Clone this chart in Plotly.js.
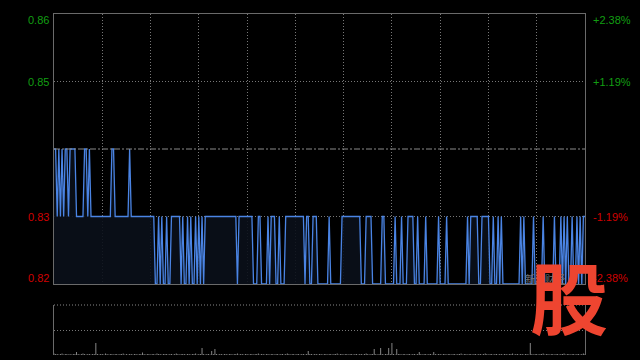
<!DOCTYPE html>
<html>
<head>
<meta charset="utf-8">
<script src="https://cdn.plot.ly/plotly-3.0.1.min.js"></script>
<style>
html,body{margin:0;padding:0;background:#000;}
#chart{width:640px;height:360px;}
</style>
</head>
<body>
<div id="chart"></div>
<script>
// Price per minute (HK session, 330 minutes)
const prices = [
0.84,0.84,0.83,0.84,0.83,0.84,0.83,0.84,0.84,0.83,
0.84,0.84,0.84,0.84,0.83,0.83,0.83,0.83,0.83,0.84,
0.84,0.83,0.84,0.83,0.83,0.83,0.83,0.83,0.83,0.83,
0.83,0.83,0.83,0.83,0.83,0.83,0.84,0.84,0.83,0.83,
0.83,0.83,0.83,0.83,0.83,0.83,0.83,0.84,0.83,0.83,
0.83,0.83,0.83,0.83,0.83,0.83,0.83,0.83,0.83,0.83,
0.83,0.83,0.83,0.82,0.82,0.83,0.82,0.83,0.82,0.82,
0.83,0.82,0.82,0.83,0.83,0.83,0.83,0.83,0.83,0.82,
0.83,0.82,0.82,0.83,0.82,0.83,0.82,0.82,0.83,0.82,
0.83,0.82,0.83,0.82,0.83,0.83,0.83,0.83,0.83,0.83,
0.83,0.83,0.83,0.83,0.83,0.83,0.83,0.83,0.83,0.83,
0.83,0.83,0.83,0.83,0.82,0.83,0.83,0.83,0.83,0.83,
0.83,0.83,0.83,0.83,0.82,0.82,0.82,0.83,0.83,0.82,
0.82,0.82,0.82,0.83,0.82,0.83,0.83,0.83,0.82,0.82,
0.83,0.82,0.82,0.82,0.83,0.83,0.83,0.83,0.83,0.83,
0.83,0.83,0.83,0.83,0.83,0.83,0.82,0.83,0.83,0.82,
0.82,0.83,0.83,0.83,0.82,0.82,0.82,0.82,0.82,0.82,
0.82,0.83,0.82,0.82,0.82,0.82,0.82,0.82,0.82,0.83,
0.83,0.83,0.83,0.83,0.83,0.83,0.83,0.83,0.83,0.83,
0.83,0.82,0.82,0.82,0.83,0.83,0.83,0.83,0.82,0.82,
0.82,0.82,0.82,0.82,0.83,0.83,0.82,0.82,0.82,0.82,
0.82,0.82,0.83,0.82,0.82,0.82,0.83,0.82,0.82,0.82,
0.83,0.83,0.83,0.83,0.82,0.82,0.83,0.82,0.82,0.82,
0.82,0.83,0.82,0.82,0.82,0.82,0.82,0.82,0.82,0.83,
0.82,0.82,0.82,0.82,0.83,0.82,0.82,0.82,0.82,0.82,
0.82,0.82,0.82,0.82,0.82,0.82,0.82,0.83,0.82,0.83,
0.83,0.83,0.83,0.83,0.82,0.82,0.83,0.83,0.83,0.83,
0.83,0.82,0.82,0.83,0.82,0.82,0.83,0.82,0.83,0.82,
0.82,0.82,0.82,0.82,0.82,0.82,0.82,0.82,0.82,0.82,
0.83,0.82,0.83,0.82,0.82,0.82,0.82,0.82,0.83,0.82,
0.82,0.82,0.82,0.82,0.83,0.82,0.82,0.82,0.82,0.82,
0.82,0.83,0.82,0.82,0.82,0.83,0.82,0.83,0.82,0.83,
0.82,0.82,0.83,0.82,0.82,0.83,0.82,0.83,0.82,0.83,0.83
];

// Volume per minute
const volumes = [
3,2,2,1,2,3,1,2,2,1,
2,1,2,2,6,2,1,2,3,2,
1,2,2,1,2,2,24,2,1,2,
2,1,3,2,1,2,2,1,2,2,
1,2,2,3,1,2,1,2,2,1,
2,2,1,2,2,5,2,1,2,2,
1,2,2,1,3,2,2,1,2,2,
2,1,2,2,1,2,3,2,1,2,
2,2,1,2,2,1,2,2,3,1,
2,2,14,2,1,2,2,1,8,2,
12,2,1,2,2,1,2,2,1,2,
2,1,2,2,3,1,2,2,1,2,
2,1,2,2,1,2,2,3,1,2,
2,1,2,2,1,2,2,1,2,2,
1,2,2,1,2,3,2,1,2,2,
1,2,2,1,2,2,1,2,8,2,
2,1,2,2,1,2,2,1,2,2,
1,2,2,1,2,2,3,1,2,2,
1,2,2,1,2,2,1,2,2,1,
2,2,1,2,3,2,1,2,2,12,
2,1,2,14,2,1,2,2,14,2,
24,2,1,12,2,2,1,2,2,1,
2,2,1,2,2,1,2,6,2,1,
2,2,1,2,2,1,6,2,1,2,
2,1,2,2,1,2,2,1,2,2,
1,2,2,3,1,2,2,1,2,2,
1,2,2,1,2,2,1,2,3,2,
1,2,2,1,2,2,1,2,2,1,
2,2,1,2,2,3,1,2,2,1,
2,2,1,2,2,1,24,2,1,2,
2,1,2,2,3,1,2,2,1,2,
2,1,2,2,1,2,2,3,1,2,
2,1,2,2,1,2,2,1,2,3,2
];

const minutes = prices.map((_, i) => i);
const prevClose = 0.84;
const leftLabels = ["0.86", "0.85", "0.83", "0.82"];
const leftValues = [0.86, 0.85, 0.83, 0.82];
const rightLabels = ["+2.38%", "+1.19%", "-1.19%", "-2.38%"];

const GREEN = "#129e12";
const RED = "#d00000";
const FONT = "Liberation Sans, Arial, sans-serif";
const GRIDDASH = "1px,2px";

const traces = [
  {
    x: minutes, y: prices, type: "scatter", mode: "lines",
    line: {color: "#4a84e4", width: 1.3},
    fill: "tozeroy", fillcolor: "rgba(10,15,26,0.9)",
    xaxis: "x", yaxis: "y", hoverinfo: "skip"
  },
  {
    x: minutes, y: volumes, type: "bar",
    marker: {color: "#8a8a8a", line: {width: 0}},
    width: 0.6,
    xaxis: "x2", yaxis: "y2", hoverinfo: "skip"
  }
];

const annotations = [];
leftValues.forEach((v, i) => {
  const c = v > prevClose ? GREEN : RED;
  let shift = 0;
  if (i === 0) shift = -6;
  if (i === leftValues.length - 1) shift = 6;
  annotations.push({xref: "paper", yref: "y", x: -0.006, y: v, text: leftLabels[i],
    xanchor: "right", yanchor: "middle", showarrow: false, yshift: shift,
    font: {family: FONT, size: 11, color: c}});
  annotations.push({xref: "paper", yref: "y", x: 1.011, y: v, text: rightLabels[i],
    xanchor: "left", yanchor: "middle", showarrow: false, yshift: shift,
    font: {family: FONT, size: 11, color: c}});
});
annotations.push({xref: "paper", yref: "paper", x: 0.925, y: 0.225, text: "新浪财经",
  xanchor: "center", yanchor: "middle", showarrow: false,
  font: {family: "Noto Sans CJK SC", size: 10, color: "#777"}});
annotations.push({xref: "paper", yref: "paper", x: 0.97, y: 0.175, text: "<b>股</b>",
  xanchor: "center", yanchor: "middle", showarrow: false,
  font: {family: "Noto Sans CJK SC", size: 78, color: "#ee4530"}});

const layout = {
  width: 640, height: 360,
  paper_bgcolor: "#000", plot_bgcolor: "#000",
  margin: {l: 54, r: 55, t: 14, b: 5},
  showlegend: false,
  xaxis: {
    domain: [0, 1], range: [0, 330], anchor: "y",
    tickvals: [30, 60, 90, 120, 150, 180, 210, 240, 270, 300],
    showticklabels: false, ticks: "",
    showgrid: true, gridcolor: "#777", griddash: GRIDDASH, gridwidth: 1,
    showline: true, mirror: true, linecolor: "#6a6a6a", linewidth: 1,
    zeroline: false, fixedrange: true
  },
  yaxis: {
    domain: [0.2082, 1], range: [0.82, 0.86], anchor: "x",
    tickvals: [0.83, 0.85], showticklabels: false, ticks: "",
    showgrid: true, gridcolor: "#777", griddash: GRIDDASH, gridwidth: 1,
    showline: true, mirror: true, linecolor: "#6a6a6a", linewidth: 1,
    zeroline: false, fixedrange: true
  },
  xaxis2: {
    domain: [0, 1], range: [0, 330], anchor: "y2",
    showticklabels: false, ticks: "", showgrid: false,
    showline: false, zeroline: false, fixedrange: true
  },
  yaxis2: {
    domain: [0, 0.1466], range: [0, 100], anchor: "x2",
    tickvals: [0, 50], showticklabels: false, ticks: "",
    showgrid: true, gridcolor: "#777", griddash: GRIDDASH, gridwidth: 1,
    showline: true, mirror: true, linecolor: "#6a6a6a", linewidth: 1,
    zeroline: false, fixedrange: true
  },
  shapes: [
    {type: "line", xref: "x domain", yref: "y", x0: 0, x1: 1, y0: prevClose, y1: prevClose,
     line: {color: "#8a8a8a", width: 1, dash: "6px,2px,2px,2px"}},
    {type: "line", xref: "x2 domain", yref: "y2 domain", x0: 0, x1: 1, y0: 1, y1: 1,
     line: {color: "#888", width: 1, dash: GRIDDASH}}
  ],
  annotations: annotations
};

Plotly.newPlot("chart", traces, layout, {staticPlot: true, displayModeBar: false});
</script>
</body>
</html>
